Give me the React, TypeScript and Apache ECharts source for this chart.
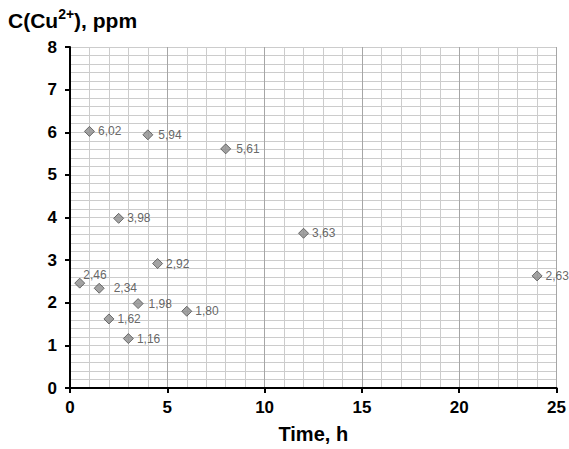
import React, { useEffect, useRef } from "react";
import * as echarts from "echarts";

const times = [0.5, 1, 1.5, 2, 2.5, 3, 3.5, 4, 4.5, 6, 8, 12, 24];
const concentrations = [2.46, 6.02, 2.34, 1.62, 3.98, 1.16, 1.98, 5.94, 2.92, 1.8, 5.61, 3.63, 2.63];
const xTicks = [0, 5, 10, 15, 20, 25];
const yTicks = [0, 1, 2, 3, 4, 5, 6, 7, 8];

const FONT = "Arial, 'Liberation Sans', sans-serif";

export default function App() {
  const ref = useRef<HTMLDivElement>(null);
  useEffect(() => {
    if (!ref.current) return;
    const chart = echarts.init(ref.current, undefined, { renderer: "svg" });
    const labelFor = (v: number) => v.toFixed(2).replace(".", ",");
    const data = times.map((t, i) => {
      const v = concentrations[i];
      const item: any = { value: [t, v] };
      if (v === 2.46) {
        item.label = { position: "right", distance: 0, offset: [-2, -8] };
      } else if (v === 2.34) {
        item.label = { distance: 9 };
      } else if (v === 5.94 || v === 5.61 || v === 1.98) {
        item.label = { distance: 5 };
      }
      return item;
    });
    chart.setOption({
      animation: false,
      backgroundColor: "#ffffff",
      grid: { left: 70, right: 11, top: 47, bottom: 60, containLabel: false },
      xAxis: {
        type: "value",
        min: xTicks[0],
        max: xTicks[xTicks.length - 1],
        interval: 5,
        name: "Time, h",
        nameLocation: "middle",
        nameGap: 36,
        nameTextStyle: { fontFamily: FONT, fontWeight: "bold", fontSize: 20, color: "#000" },
        axisLine: { show: true, onZero: false, lineStyle: { color: "#000", width: 2 } },
        axisTick: { show: true, inside: false, length: 5, lineStyle: { color: "#000", width: 2 } },
        axisLabel: { fontFamily: FONT, fontWeight: "bold", fontSize: 17, color: "#000", margin: 11 },
        splitLine: { show: true, lineStyle: { color: "#a6a6a6", width: 1 } },
        minorTick: { show: false, splitNumber: 5 },
        minorSplitLine: { show: true, lineStyle: { color: "#cccccc", width: 1 } },
      },
      yAxis: {
        type: "value",
        min: yTicks[0],
        max: yTicks[yTicks.length - 1],
        interval: 1,
        axisLine: { show: true, onZero: false, lineStyle: { color: "#000", width: 2 } },
        axisTick: { show: true, inside: false, length: 5, lineStyle: { color: "#000", width: 2 } },
        axisLabel: { fontFamily: FONT, fontWeight: "bold", fontSize: 17, color: "#000", margin: 13 },
        splitLine: { show: true, lineStyle: { color: "#cccccc", width: 1 } },
        minorTick: { show: false, splitNumber: 5 },
        minorSplitLine: { show: true, lineStyle: { color: "#cccccc", width: 1 } },
      },
      graphic: [
        {
          type: "text",
          left: 8,
          top: 7,
          style: {
            text: "{a|C(Cu}{s|2+}{a|), ppm}",
            rich: {
              a: { fontFamily: FONT, fontWeight: "bold", fontSize: 21, fill: "#000", verticalAlign: "bottom", lineHeight: 24 },
              s: { fontFamily: FONT, fontWeight: "bold", fontSize: 14, fill: "#000", verticalAlign: "top", lineHeight: 24, padding: [0, 0, 8, 0] },
            },
          },
        },
      ],
      series: [
        {
          type: "scatter",
          symbol: "diamond",
          symbolSize: 10,
          itemStyle: { color: "#8c8c8c", borderColor: "#505050", borderWidth: 1 },
          label: {
            show: true,
            position: "right",
            distance: 3,
            fontFamily: FONT,
            fontSize: 12,
            color: "#404040",
            formatter: (p: any) => labelFor(p.value[1]),
          },
          data,
        },
      ],
    });
    return () => chart.dispose();
  }, []);
  return <div ref={ref} style={{ position: "fixed", left: 0, top: 0, width: 569, height: 449 }} />;
}
